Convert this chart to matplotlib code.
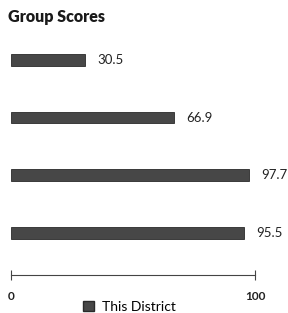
import matplotlib
matplotlib.use("Agg")
import matplotlib.pyplot as plt
from matplotlib.patches import Patch

plt.rcParams['font.family'] = ['Lato', 'DejaVu Sans']

groups = ["Group 1", "Group 2", "Group 3", "Group 4"]
scores = [30.5, 66.9, 97.7, 95.5]
series_name = "This District"
title = "Group Scores"
bar_color = "#474747"

fig = plt.figure(figsize=(2.88, 3.13), dpi=100)
ax = fig.add_axes([11 / 288, 0.1214, (255 - 11) / 288, 0.783])

ypos = list(range(len(groups)))
ax.barh(ypos, scores, height=0.2, color=bar_color, edgecolor="#2a2a2a", linewidth=0.6)
for y, v in zip(ypos, scores):
    ax.annotate(f"{v}", (v, y), xytext=(8.5, 0), textcoords="offset points",
                va="center", ha="left", fontsize=9.5, color="#222222")

ax.set_xlim(0, 100)
ax.set_ylim(3.73, -0.52)
ax.set_yticks([])
ax.set_xticks([0, 100])
ax.set_xticklabels(["0", "100"], fontsize=8.5, fontweight="bold", color="#222222")
ax.tick_params(axis="x", direction="inout", length=7, width=0.8, color="#444444", pad=8)
for s in ["top", "right", "left"]:
    ax.spines[s].set_visible(False)
ax.spines["bottom"].set_color("#444444")
ax.spines["bottom"].set_linewidth(0.8)

fig.text(8 / 288, 1 - 17 / 313, title, fontsize=11.5, fontweight="heavy", va="center", ha="left", color="#1a1a1a")

fig.legend(handles=[Patch(facecolor=bar_color, edgecolor="#2a2a2a", label=series_name)],
           loc="center", bbox_to_anchor=(0.45, 0.02), frameon=False, fontsize=10,
           handlelength=0.8, handleheight=0.8, handletextpad=0.6)

fig.savefig("out.png", dpi=100)
